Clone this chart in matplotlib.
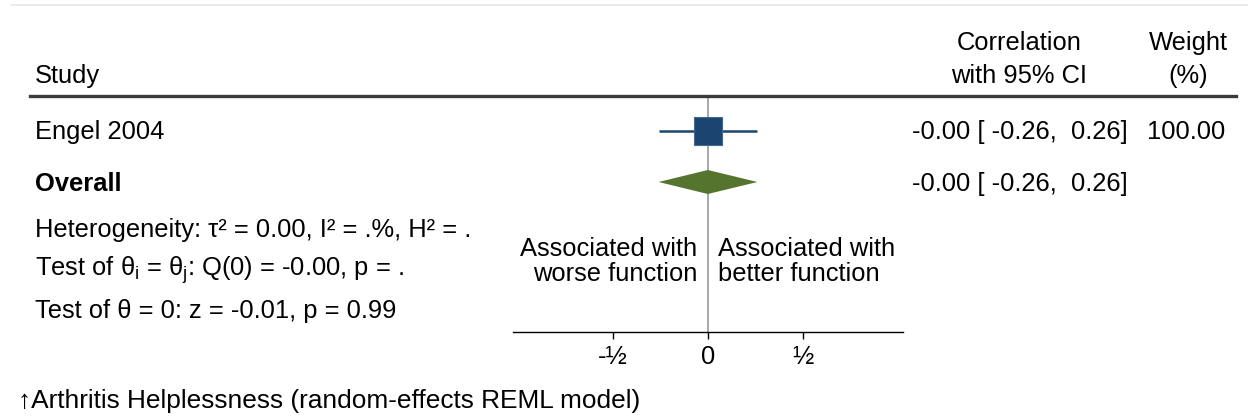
import matplotlib
matplotlib.use("Agg")
import matplotlib.pyplot as plt
from matplotlib.lines import Line2D

# ---- data ----
studies = ["Engel 2004"]
est = [-0.001]
ci_lo = [-0.26]
ci_hi = [0.26]
weights = [100.00]
overall_est = -0.001
overall_lo = -0.26
overall_hi = 0.26
tick_vals = [-0.5, 0, 0.5]
tick_labels = ["-½", "0", "½"]
het_lines = [
    "Heterogeneity: τ² = 0.00, I² = .%, H² = .",
    "Test of θ$_\\mathregular{i}$ = θ$_\\mathregular{j}$: Q(0) = -0.00, p = .",
    "Test of θ = 0: z = -0.01, p = 0.99",
]
footer = "↑Arthritis Helplessness (random-effects REML model)"

plt.rcParams['font.family'] = ['Liberation Sans', 'DejaVu Sans']
plt.rcParams['mathtext.fontset'] = 'custom'
plt.rcParams['mathtext.rm'] = 'Liberation Sans'
plt.rcParams['mathtext.it'] = 'Liberation Sans:italic'
FS = 18.4

W, H = 1248, 419
fig = plt.figure(figsize=(W / 100, H / 100), dpi=100)


def fx(px):
    return px / W


def fy(py):
    return 1 - py / H


# faint top rule
fig.add_artist(Line2D([fx(12), fx(1248)], [fy(5), fy(5)], color='#e6e6e6', lw=1.2))
# header rule
fig.add_artist(Line2D([fx(30), fx(1236)], [fy(96), fy(96)], color='#3a3a3a', lw=2.4))

# headers
fig.text(fx(35), fy(76), "Study", fontsize=FS, ha='left', va='center')
fig.text(fx(1019), fy(43), "Correlation", fontsize=FS, ha='center', va='center')
fig.text(fx(1019), fy(76), "with 95% CI", fontsize=FS, ha='center', va='center')
fig.text(fx(1188), fy(43), "Weight", fontsize=FS, ha='center', va='center')
fig.text(fx(1188), fy(76), "(%)", fontsize=FS, ha='center', va='center')

# forest axes
ax = fig.add_axes([fx(513), fy(332), (903 - 513) / W, (332 - 96) / H])
ax.set_xlim(-1.026, 1.026)
row_px = 51
ax.set_ylim(1 + (332 - 131) / row_px, 1 - (131 - 96) / row_px)
for s in ['left', 'top', 'right']:
    ax.spines[s].set_visible(False)
ax.spines['bottom'].set_linewidth(1.0)
ax.set_yticks([])
ax.set_xticks(tick_vals)
ax.set_xticklabels(tick_labels, fontsize=FS)
ax.tick_params(axis='x', length=5, width=1, pad=4)
ax.patch.set_alpha(0)

ax.axvline(0, color='#9a9a9a', lw=1.2, zorder=1)

blue = '#1b4570'
green = '#55752f'
for i, (s, e, lo, hi, w) in enumerate(zip(studies, est, ci_lo, ci_hi, weights)):
    y = i + 1
    ax.hlines(y, lo, hi, color=blue, lw=1.8, zorder=2)
    ax.plot(e, y, marker='s', ms=20, color=blue, mec='#44698f', mew=0.8, zorder=3)
    ypx = 132 + i * row_px
    fig.text(fx(35), fy(ypx), s, fontsize=FS, ha='left', va='center')
    fig.text(fx(912), fy(ypx), f"{e:.2f} [{lo:6.2f}, {hi:5.2f}]", fontsize=FS, ha='left', va='center')
    fig.text(fx(1225), fy(ypx), f"{w:.2f}", fontsize=FS, ha='right', va='center')

yo = len(studies) + 1
dh = 12 / row_px
ax.fill([overall_lo, overall_est, overall_hi, overall_est],
        [yo, yo - dh, yo, yo + dh], color=green, lw=0, zorder=3)
opx = 132 + len(studies) * row_px + 1
fig.text(fx(35), fy(opx), "Overall", fontsize=FS, ha='left', va='center', fontweight='bold')
fig.text(fx(912), fy(opx), f"{overall_est:.2f} [{overall_lo:6.2f}, {overall_hi:5.2f}]",
         fontsize=FS, ha='left', va='center')

# heterogeneity
for k, t in enumerate(het_lines):
    fig.text(fx(35), fy(230 + 40.5 * k), t, fontsize=FS, ha='left', va='center')

# direction labels
fig.text(fx(697), fy(249), "Associated with", fontsize=FS, ha='right', va='center')
fig.text(fx(697), fy(274), "worse function", fontsize=FS, ha='right', va='center')
fig.text(fx(718), fy(249), "Associated with", fontsize=FS, ha='left', va='center')
fig.text(fx(718), fy(274), "better function", fontsize=FS, ha='left', va='center')

fig.text(fx(18), fy(401), footer, fontsize=18.9, ha='left', va='center')

fig.savefig("out.png", dpi=100, facecolor='white')
